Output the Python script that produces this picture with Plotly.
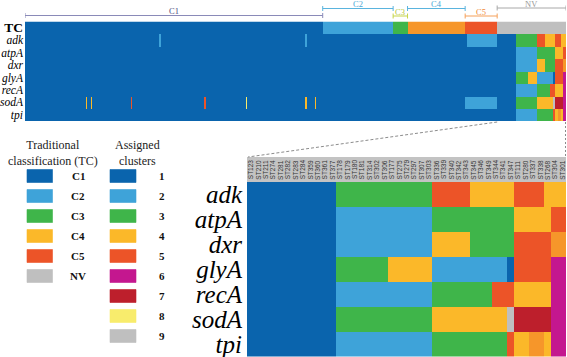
import plotly.graph_objects as go

W, H = 567, 357

# ---------------- data ----------------
cluster_colors = {1: "#0A64AD", 2: "#3EA3D9", 3: "#3FB54A", 4: "#FBB829", 5: "#EC5428",
                  6: "#C4178F", 7: "#BD1F2C", 8: "#F8EC6C", 9: "#BFBFBF", 10: "#F6962A"}

tc_names = ["C1", "C2", "C3", "C4", "C5", "NV"]
tc_counts = [186, 44, 9, 36, 20, 43]
tc_bar_codes = [1, 2, 3, 10, 5, 9]
tc_legend_colors = ["#0A64AD", "#3EA3D9", "#3FB54A", "#FBB829", "#EC5428", "#BFBFBF"]
cluster_ids = [1, 2, 3, 4, 5, 6, 7, 8, 9]

genes = ["adk", "atpA", "dxr", "glyA", "recA", "sodA", "tpi"]

# overview rows for C1..C5 STs: runs of (cluster, number of STs)
top_adk = [(1, 84), (2, 1), (1, 90), (2, 1), (1, 100), (2, 19)]
top_atpA = [(1, 295)]
top_dxr = [(1, 295)]
top_glyA = [(1, 295)]
top_recA = [(1, 295)]
top_sodA = [(1, 38), (4, 1), (1, 2), (4, 1), (1, 24), (5, 1), (1, 45), (5, 1), (1, 25), (8, 1),
            (1, 36), (4, 1), (1, 5), (4, 1), (1, 93), (2, 20)]
top_tpi = [(1, 295)]

# NV STs (zoomed panel): runs of (cluster, number of STs)
nv_adk = [(1, 12), (3, 13), (5, 5), (4, 6), (5, 4), (4, 3)]
nv_atpA = [(1, 12), (2, 13), (3, 11), (4, 5), (5, 2)]
nv_dxr = [(1, 12), (2, 13), (4, 5), (3, 6), (5, 5), (10, 2)]
nv_glyA = [(1, 12), (3, 7), (4, 6), (2, 10), (1, 1), (5, 5), (6, 2)]
nv_recA = [(1, 12), (2, 13), (3, 8), (5, 3), (4, 5), (6, 2)]
nv_sodA = [(1, 12), (3, 13), (4, 10), (9, 1), (7, 5), (6, 2)]
nv_tpi = [(1, 12), (2, 13), (3, 10), (5, 1), (4, 2), (10, 2), (4, 1), (6, 2)]

st_labels = ["ST123", "ST210", "ST211", "ST274", "ST281", "ST282", "ST283", "ST284", "ST359",
             "ST360", "ST361", "ST377", "ST178", "ST179", "ST180", "ST181", "ST314", "ST302",
             "ST306", "ST177", "ST275", "ST279", "ST297", "ST307", "ST303", "ST336", "ST339",
             "ST340", "ST342", "ST343", "ST345", "ST346", "ST349", "ST344", "ST341", "ST347",
             "ST111", "ST280", "ST337", "ST338", "ST268", "ST304", "ST301"]

top_runs = [top_adk, top_atpA, top_dxr, top_glyA, top_recA, top_sodA, top_tpi]
nv_runs = [nv_adk, nv_atpA, nv_dxr, nv_glyA, nv_recA, nv_sodA, nv_tpi]


def expand(runs):
    out = []
    for c, n in runs:
        out += [c] * n
    return out


def px(x):
    return x / W


def py(y):
    return 1 - y / H


n_codes = 10
colorscale = []
for k in range(1, n_codes + 1):
    colorscale.append([(k - 1) / n_codes, cluster_colors[k]])
    colorscale.append([k / n_codes, cluster_colors[k]])

tc_row = expand(list(zip(tc_bar_codes, tc_counts)))
z_top = [tc_row] + [expand(t) + expand(n) for t, n in zip(top_runs, nv_runs)]
z_nv = [expand(n) for n in nv_runs]
n_top = len(tc_row)

fig = go.Figure()
fig.add_trace(go.Heatmap(z=z_top, x=list(range(n_top)), y=list(range(8)),
                         colorscale=colorscale, zmin=0.5, zmax=n_codes + 0.5,
                         showscale=False, hoverinfo="skip", xaxis="x", yaxis="y"))
fig.add_trace(go.Heatmap(z=z_nv, x=list(range(len(st_labels))), y=list(range(7)),
                         colorscale=colorscale, zmin=0.5, zmax=n_codes + 0.5,
                         showscale=False, hoverinfo="skip", xaxis="x2", yaxis="y2"))

serif = "Liberation Serif"

fig.update_layout(
    width=W, height=H, margin=dict(l=0, r=0, t=0, b=0, pad=0), autosize=False,
    paper_bgcolor="white", plot_bgcolor="white", showlegend=False,
    xaxis=dict(domain=[px(25), px(566)], range=[-0.5, n_top - 0.5], visible=False,
               automargin=False),
    yaxis=dict(domain=[py(121), py(21.5)], range=[7.5, -0.5], tickmode="array",
               tickvals=list(range(8)),
               ticktext=["<b><span style='font-size:13.5px'>TC</span></b>"]
                        + ["<i>%s</i>" % g for g in genes],
               tickfont=dict(family=serif, size=11.5, color="black"),
               showgrid=False, zeroline=False, showline=False, ticks="",
               automargin=False, ticklabelstandoff=1, ticklabeloverflow="allow"),
    xaxis2=dict(domain=[px(247), px(566)], range=[-0.5, len(st_labels) - 0.5], visible=False,
                anchor="y2", automargin=False),
    yaxis2=dict(domain=[py(356.5), py(182)], range=[6.5, -0.5], tickmode="array",
                tickvals=list(range(7)), ticktext=["<i>%s</i>" % g for g in genes],
                tickfont=dict(family=serif, size=25, color="black"),
                showgrid=False, zeroline=False, showline=False, ticks="", anchor="x2",
                automargin=False, ticklabelstandoff=4, ticklabeloverflow="allow"),
)

shapes = []
annotations = []


def note(x, y, text, size, color, xref="paper", angle=0, family=serif):
    return dict(x=x, y=y, xref=xref, yref="paper", text=text, showarrow=False,
                xanchor="center", yanchor="middle", textangle=angle,
                font=dict(family=family, size=size, color=color))


# header band of zoomed panel
shapes.append(dict(type="rect", xref="paper", yref="paper", x0=px(247), x1=px(566),
                   y0=py(182), y1=py(157), fillcolor="#C3C3C3", line=dict(width=0), layer="below"))
for i, lab in enumerate(st_labels):
    annotations.append(note(i, py(169.5), lab, 6.5, "#333333", xref="x2", angle=-90,
                            family="Liberation Sans Narrow, Liberation Sans"))

# brackets over top panel
bracket_line_y = [15.5, 8.5, 16, 8.5, 16, 8]
bracket_label_y = [11.5, 4.5, 12, 4.5, 12, 4.5]
bracket_colors = ["#8A8AB8", "#5AB4DE", "#C5D548", "#5AB4DE", "#F5A05A", "#A8A8A8"]
label_colors = ["#4B4B80", "#4AA8D6", "#B8C840", "#4AA8D6", "#F08A3A", "#999999"]
start = -0.5
for name, cnt, ly, lab_y, bc, lc in zip(tc_names, tc_counts, bracket_line_y, bracket_label_y,
                                          bracket_colors, label_colors):
    end = start + cnt
    shapes.append(dict(type="line", xref="x", yref="paper", x0=start, x1=end,
                       y0=py(ly), y1=py(ly), line=dict(color=bc, width=1)))
    for xe in (start, end):
        shapes.append(dict(type="line", xref="x", yref="paper", x0=xe, x1=xe,
                           y0=py(ly - 2.5), y1=py(ly + 2.5), line=dict(color=bc, width=1)))
    annotations.append(note((start + end) / 2, py(lab_y), name, 8.5, lc, xref="x"))
    start = end

# connector lines from NV block to zoomed panel
nv_start = sum(tc_counts[:-1]) - 0.5
shapes.append(dict(type="line", xref="paper", yref="paper",
                   x0=px(25 + (nv_start + 0.5) * 541 / n_top), y0=py(122), x1=px(248), y1=py(157),
                   line=dict(color="#8C8C8C", width=1, dash="3px,2px")))
shapes.append(dict(type="line", xref="paper", yref="paper", x0=px(565.5), y0=py(122),
                   x1=px(565.5), y1=py(157), line=dict(color="#8C8C8C", width=1, dash="2px,2px")))

# legends
annotations.append(note(px(53), py(153), "Traditional<br>classification (TC)", 12, "#222222"))
annotations.append(note(px(137.5), py(153), "Assigned<br>clusters", 12, "#222222"))
for k, (name, col) in enumerate(zip(tc_names, tc_legend_colors)):
    yc = 176 + 20 * k
    shapes.append(dict(type="rect", xref="paper", yref="paper", x0=px(27), x1=px(52.5),
                       y0=py(yc + 6.5), y1=py(yc - 6.5), fillcolor=col,
                       line=dict(width=0.6, color=col)))
    annotations.append(note(px(78), py(yc), "<b>%s</b>" % name, 11, "#111111"))
for k, cid in enumerate(cluster_ids):
    yc = 176 + 20 * k
    col = cluster_colors[cid]
    shapes.append(dict(type="rect", xref="paper", yref="paper", x0=px(110), x1=px(136),
                       y0=py(yc + 6.5), y1=py(yc - 6.5), fillcolor=col,
                       line=dict(width=0.6, color=col)))
    annotations.append(note(px(161.5), py(yc), "<b>%d</b>" % cid, 11, "#111111"))

fig.update_layout(shapes=shapes, annotations=annotations)
fig.write_html("out.html", config={"displayModeBar": False},
               post_script="document.body.style.margin='0';document.body.style.overflow='hidden';")
